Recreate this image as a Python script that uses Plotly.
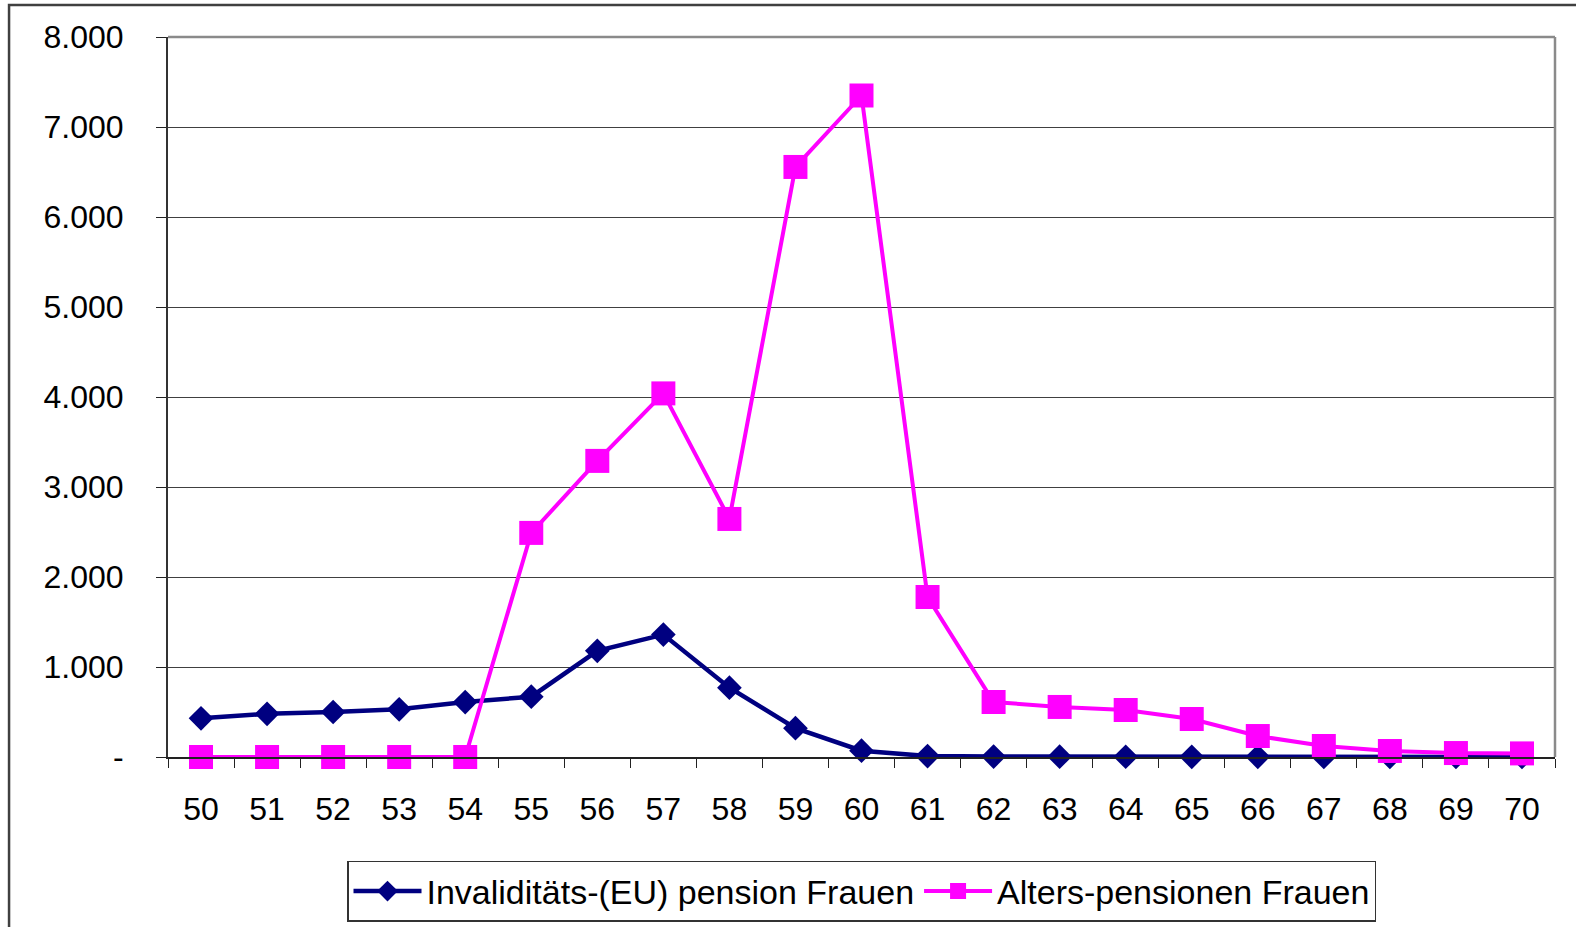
import plotly.graph_objects as go

ages = [str(a) for a in range(50, 71)]
invaliditaet = [430, 480, 500, 530, 610, 670, 1180, 1360, 770, 320, 70, 10, 5, 4, 3, 2, 2, 1, 1, 1, 1]
alters = [0, 0, 0, 0, 0, 2490, 3290, 4040, 2645, 6556, 7350, 1778, 611, 556, 522, 422, 233, 122, 67, 44, 40]

y_tickvals = [0, 1000, 2000, 3000, 4000, 5000, 6000, 7000, 8000]
y_ticktext = ["-", "1.000", "2.000", "3.000", "4.000", "5.000", "6.000", "7.000", "8.000"]

FONT = "Liberation Sans, Arial, sans-serif"

fig = go.Figure()
fig.add_trace(go.Scatter(
    x=ages, y=invaliditaet, mode="lines+markers",
    name="Invaliditäts-(EU) pension Frauen",
    line=dict(color="#000080", width=4.5),
    marker=dict(symbol="diamond", size=19, color="#000080"),
    cliponaxis=False,
))
fig.add_trace(go.Scatter(
    x=ages, y=alters, mode="lines+markers",
    name="Alters-pensionen Frauen",
    line=dict(color="#FF00FF", width=4),
    marker=dict(symbol="square", size=24, color="#FF00FF"),
    cliponaxis=False,
))

fig.update_layout(
    width=1576, height=927,
    margin=dict(l=168, r=21, t=37, b=170, autoexpand=False),
    paper_bgcolor="white", plot_bgcolor="white",
    font=dict(family=FONT, size=32, color="black"),
    showlegend=True,
    legend=dict(
        orientation="h", x=0.5, xanchor="center", y=-0.1444, yanchor="top",
        font=dict(size=34, family=FONT, color="black"),
        bordercolor="#333333", borderwidth=1.5, bgcolor="white",
        itemwidth=68,
    ),
    xaxis=dict(
        type="category", range=[-0.5, 20.5], autorange=False,
        showgrid=False, showline=True, linecolor="#222222", linewidth=1.5,
        ticks="outside", tickson="boundaries", ticklen=9, tickcolor="#222222",
        ticklabelstandoff=23, tickfont=dict(size=32, family=FONT),
        zeroline=False, fixedrange=True, automargin=False,
    ),
    yaxis=dict(
        range=[0, 8000], autorange=False, tickvals=y_tickvals, ticktext=y_ticktext,
        showgrid=True, gridcolor="#404040", gridwidth=1,
        showline=True, linecolor="#333333", linewidth=2,
        ticks="outside", ticklen=10, tickcolor="#222222",
        ticklabelstandoff=26, tickfont=dict(size=32, family=FONT),
        zeroline=False, fixedrange=True, automargin=False,
    ),
    shapes=[
        dict(type="line", xref="paper", yref="paper", x0=0, x1=1, y0=1, y1=1,
             line=dict(color="#8a8a8a", width=2.5)),
        dict(type="line", xref="paper", yref="paper", x0=1, x1=1, y0=0, y1=1,
             line=dict(color="#8a8a8a", width=2.5)),
        dict(type="rect", xref="paper", yref="paper",
             x0=-0.1146, x1=1.06, y0=-0.35, y1=1.0444,
             line=dict(color="#404040", width=2.5), fillcolor="rgba(0,0,0,0)"),
    ],
)

fig.write_html(
    "out.html",
    config={"displayModeBar": False},
    post_script="document.body.style.margin='0';document.body.style.padding='0';",
)
